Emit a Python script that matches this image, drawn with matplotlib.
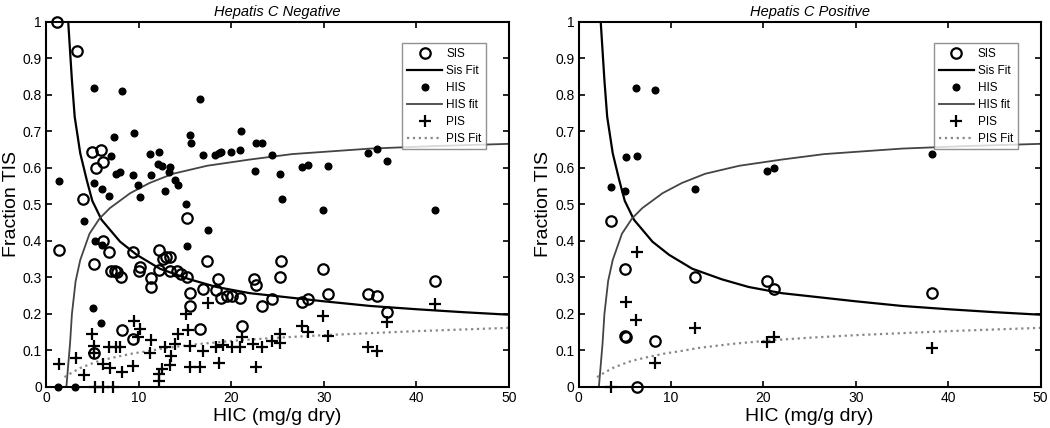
import matplotlib
matplotlib.use('Agg')
import matplotlib.pyplot as plt
import numpy as np

plt.rcParams['font.family'] = ['Liberation Sans', 'DejaVu Sans']

# ---- Hepatis C Negative ----
neg_sis_x = [1.2, 3.3, 1.4, 4.0, 5.0, 5.9, 5.4, 6.2, 5.2, 6.2, 6.8, 7.0, 7.4, 7.7, 8.1, 9.4, 10.0, 10.1,
             11.3, 11.3, 12.2, 12.2, 12.6, 13.0, 13.4, 13.4, 14.1, 14.6, 15.2, 15.2, 15.5, 15.6, 16.6,
             16.9, 17.4, 18.4, 18.6, 18.9, 19.5, 20.1, 21.0, 21.2, 8.2, 9.4, 5.2, 22.5, 22.7, 23.3,
             24.4, 25.4, 25.3, 27.6, 28.3, 29.9, 30.5, 34.8, 35.7, 36.8, 42.0]
neg_sis_y = [1.0, 0.92, 0.375, 0.515, 0.644, 0.649, 0.60, 0.615, 0.336, 0.40, 0.37, 0.318, 0.318, 0.315,
             0.30, 0.37, 0.318, 0.328, 0.298, 0.274, 0.375, 0.32, 0.35, 0.356, 0.355, 0.318, 0.318, 0.31,
             0.30, 0.463, 0.257, 0.222, 0.158, 0.268, 0.345, 0.266, 0.296, 0.244, 0.25, 0.25, 0.244,
             0.167, 0.156, 0.131, 0.093, 0.296, 0.28, 0.222, 0.24, 0.345, 0.30, 0.232, 0.241, 0.323,
             0.254, 0.254, 0.25, 0.206, 0.29]

neg_his_x = [1.4, 5.2, 8.2, 5.2, 6.1, 6.8, 7.3, 7.0, 7.6, 8.0, 9.5, 9.4, 9.9, 10.1, 11.2, 11.3, 12.2,
             12.1, 12.5, 13.4, 13.3, 12.9, 13.9, 14.3, 15.1, 15.5, 15.7, 16.6, 16.9, 18.3, 18.7, 18.9,
             20.0, 21.0, 21.1, 22.6, 22.7, 23.3, 24.4, 25.3, 25.5, 27.6, 28.3, 30.5, 29.9, 34.8, 35.7,
             36.8, 42.0, 4.1, 5.3, 6.1, 5.1, 5.9, 1.3, 3.1, 15.2, 17.5]
neg_his_y = [0.564, 0.82, 0.81, 0.558, 0.542, 0.523, 0.685, 0.634, 0.584, 0.59, 0.695, 0.58, 0.552,
             0.52, 0.638, 0.58, 0.645, 0.61, 0.605, 0.603, 0.59, 0.538, 0.566, 0.552, 0.50, 0.69, 0.668,
             0.79, 0.635, 0.635, 0.642, 0.645, 0.645, 0.65, 0.70, 0.592, 0.668, 0.668, 0.635, 0.584,
             0.515, 0.603, 0.608, 0.605, 0.485, 0.64, 0.652, 0.619, 0.485, 0.455, 0.40, 0.389, 0.217,
             0.175, 0.0, 0.0, 0.386, 0.43]

neg_pis_x = [1.4, 3.2, 4.1, 5.0, 5.2, 5.2, 5.3, 6.2, 7.2, 6.2, 6.9, 6.8, 7.6, 8.0, 8.2, 9.4, 9.5, 10.1,
             9.9, 11.3, 11.2, 12.2, 12.2, 12.5, 12.8, 13.4, 13.5, 13.9, 14.3, 15.1, 15.3, 15.6, 15.5,
             16.6, 16.9, 17.5, 18.4, 18.7, 19.1, 20.1, 21.0, 21.2, 22.4, 23.3, 22.7, 24.4, 25.3, 25.3,
             27.6, 28.3, 30.5, 29.9, 34.8, 35.7, 36.8, 42.0]
neg_pis_y = [0.063, 0.079, 0.033, 0.145, 0.112, 0.093, 0.0, 0.0, 0.0, 0.063, 0.052, 0.11, 0.11, 0.11,
             0.04, 0.057, 0.18, 0.158, 0.137, 0.13, 0.092, 0.017, 0.035, 0.048, 0.11, 0.06, 0.085, 0.117,
             0.145, 0.2, 0.157, 0.112, 0.055, 0.055, 0.098, 0.23, 0.11, 0.065, 0.115, 0.11, 0.11, 0.137,
             0.118, 0.11, 0.055, 0.127, 0.145, 0.12, 0.167, 0.151, 0.14, 0.195, 0.11, 0.099, 0.178,
             0.227]

# ---- Hepatis C Positive ----
pos_sis_x = [3.5, 5.05, 5.0, 5.15, 6.3, 8.3, 12.6, 20.4, 21.2, 38.2]
pos_sis_y = [0.456, 0.322, 0.14, 0.138, 0.0, 0.127, 0.302, 0.29, 0.269, 0.257]
pos_his_x = [3.5, 5.05, 5.1, 6.25, 6.3, 8.3, 12.6, 20.4, 21.2, 38.2]
pos_his_y = [0.547, 0.538, 0.629, 0.819, 0.633, 0.814, 0.542, 0.593, 0.601, 0.638]
pos_pis_x = [3.5, 5.15, 6.3, 6.25, 8.3, 12.6, 20.4, 21.2, 38.2]
pos_pis_y = [0.0, 0.234, 0.369, 0.184, 0.065, 0.161, 0.122, 0.136, 0.108]

# ---- fitted curves ----
sis_fit_x = [2.4, 2.8, 3.1, 3.7, 4.4, 5.0, 6.0, 8.0, 9.8, 12.3, 15.5, 18.4, 22, 25.6, 29.9, 35, 40, 45, 50]
sis_fit_y = [1.0, 0.84, 0.74, 0.64, 0.567, 0.51, 0.458, 0.398, 0.362, 0.324, 0.295, 0.274, 0.257,
             0.247, 0.235, 0.222, 0.213, 0.205, 0.198]
his_fit_x = [2.2, 2.4, 2.6, 2.8, 3.2, 3.7, 4.7, 5.8, 6.9, 9.1, 11.2, 13.7, 17.4, 22, 26.6, 35, 42, 50]
his_fit_y = [0.0, 0.06, 0.12, 0.20, 0.29, 0.348, 0.42, 0.462, 0.49, 0.531, 0.559, 0.584, 0.606,
             0.623, 0.638, 0.653, 0.66, 0.666]
pis_fit_x = [2.0, 2.5, 3.7, 4.7, 5.8, 7.5, 9.4, 11.2, 13, 16.6, 20.9, 25, 30, 40, 50]
pis_fit_y = [0.027, 0.035, 0.052, 0.062, 0.072, 0.082, 0.092, 0.099, 0.107, 0.118, 0.128, 0.135,
             0.142, 0.153, 0.162]

panels = [
    ('Hepatis C Negative', neg_sis_x, neg_sis_y, neg_his_x, neg_his_y, neg_pis_x, neg_pis_y,
     [0.0438, 0.0958, 0.441, 0.853]),
    ('Hepatis C Positive', pos_sis_x, pos_sis_y, pos_his_x, pos_his_y, pos_pis_x, pos_pis_y,
     [0.551, 0.0958, 0.440, 0.853]),
]

fig = plt.figure(figsize=(10.5, 4.28), dpi=100)

for title, sx, sy, hx, hy, px, py, pos in panels:
    ax = fig.add_axes(pos)
    ax.plot(sx, sy, 'o', mfc='none', mec='black', ms=7.5, mew=1.6, label='SIS', clip_on=False, zorder=3)
    ax.plot(sis_fit_x, sis_fit_y, '-', color='black', lw=1.6, label='Sis Fit')
    ax.plot(hx, hy, 'o', color='black', ms=4.8, label='HIS', clip_on=False, zorder=3)
    ax.plot(his_fit_x, his_fit_y, '-', color='#444444', lw=1.3, label='HIS fit')
    ax.plot(px, py, '+', color='black', ms=8, mew=1.6, label='PIS', clip_on=False, zorder=3)
    ax.plot(pis_fit_x, pis_fit_y, ':', color='#888888', lw=1.6, label='PIS Fit')

    ax.set_xlim(0, 50)
    ax.set_ylim(0, 1)
    ax.set_xticks([0, 10, 20, 30, 40, 50])
    ax.set_yticks(np.arange(0, 1.01, 0.1))
    ax.set_yticklabels(['0', '0.1', '0.2', '0.3', '0.4', '0.5', '0.6', '0.7', '0.8', '0.9', '1'])
    ax.tick_params(direction='in', top=True, right=True, length=4, width=1.2, labelsize=10, pad=3)
    for s in ax.spines.values():
        s.set_linewidth(1.5)
    ax.set_title(title, style='italic', fontsize=10.5, pad=4)
    ax.set_xlabel('HIC (mg/g dry)', fontsize=14, labelpad=2)
    ax.set_ylabel('Fraction TIS', fontsize=14, labelpad=2)
    leg = ax.legend(loc='upper right', fontsize=8.5, frameon=True, fancybox=False, edgecolor='#777777',
                    borderpad=0.4, labelspacing=0.42, handlelength=3.0, handletextpad=0.3,
                    bbox_to_anchor=(0.963, 0.958))
    leg.get_frame().set_linewidth(1.0)

fig.savefig('out.png', dpi=100)
